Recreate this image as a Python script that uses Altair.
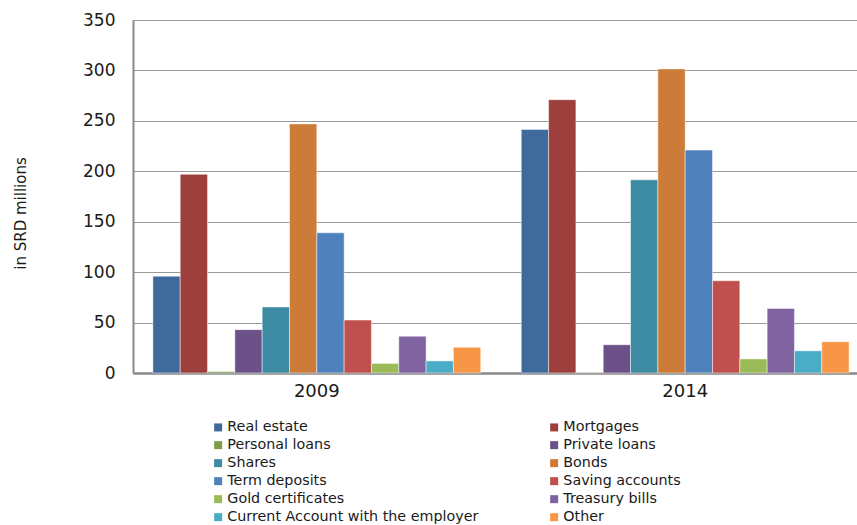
import altair as alt
import pandas as pd

years = ["2009", "2014"]
categories = [
    "Real estate", "Mortgages", "Personal loans", "Private loans",
    "Shares", "Bonds", "Term deposits", "Saving accounts",
    "Gold certificates", "Treasury bills",
    "Current Account with the employer", "Other",
]
values_2009 = [96, 197, 1.5, 43, 65.5, 247, 139, 52.5, 9.5, 36.5, 12, 25.5]
values_2014 = [241.5, 271, 0.5, 28, 191.5, 301.5, 221, 91.5, 14, 64, 22, 31]
colors = [
    "#3E6A9C", "#9D3F3D", "#7F9C47", "#6B5187",
    "#3C8BA3", "#CC7B38", "#4F81BD", "#C0504D",
    "#9BBB59", "#8064A2", "#4BACC6", "#F79646",
]
y_ticks = [0, 50, 100, 150, 200, 250, 300, 350]

rows = []
for yr, vals in zip(years, [values_2009, values_2014]):
    for c, v in zip(categories, vals):
        rows.append({"year": yr, "category": c, "value": v})
df = pd.DataFrame(rows)

FONT = "DejaVu Sans"

chart = alt.Chart(df).mark_bar(
    stroke="white", strokeWidth=0.8, strokeOpacity=0.6
).encode(
    x=alt.X("year:N", sort=years, title=None,
            scale=alt.Scale(range=[0, 736], paddingInner=0.11, paddingOuter=0.054),
            axis=alt.Axis(labelAngle=0, ticks=False, labelFontSize=18, labelFont=FONT,
                          labelColor="#1a1a1a", labelPadding=9, domainColor="#888888",
                          domainWidth=2.5, grid=False)),
    xOffset=alt.XOffset("category:N", sort=categories),
    y=alt.Y("value:Q", title="in SRD millions",
            scale=alt.Scale(domain=[0, 350], nice=False),
            axis=alt.Axis(values=y_ticks, ticks=False, labelFontSize=17, labelFont=FONT,
                          labelColor="#1a1a1a", labelPadding=18, domainColor="#888888",
                          domainWidth=2, gridColor="#9a9a9a", gridWidth=1.2,
                          titleFont=FONT, titleFontSize=15, titleFontWeight="normal",
                          titleColor="#1a1a1a", titleX=-113, titleY=193,
                          titleBaseline="middle", titleAngle=270)),
    color=alt.Color("category:N", sort=categories,
                    scale=alt.Scale(domain=categories, range=colors),
                    legend=alt.Legend(title=None, orient="none", legendX=78, legendY=400,
                                      direction="horizontal",
                                      columns=2, columnPadding=68, rowPadding=3,
                                      symbolType="square", symbolSize=64,
                                      symbolStrokeWidth=0, labelFont=FONT,
                                      labelFontSize=14.3, labelColor="#1a1a1a",
                                      labelOffset=2, labelLimit=320, padding=0)),
).properties(
    width=724, height=353,
    autosize=alt.AutoSizeParams(type="none"),
    padding={"left": 133, "top": 20, "right": 0, "bottom": 152},
).configure_view(strokeWidth=0)

chart.save("out.html", embed_options={"renderer": "svg", "actions": False})
